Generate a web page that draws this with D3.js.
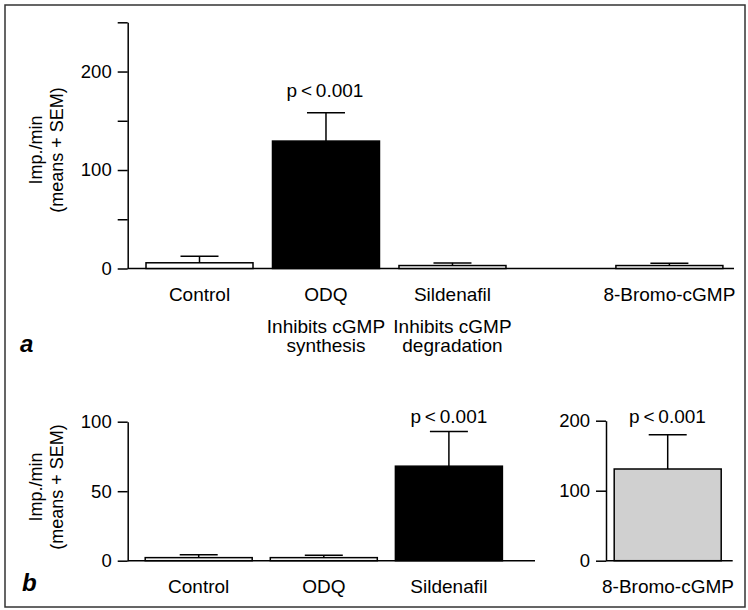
<!DOCTYPE html>
<html><head><meta charset="utf-8">
<script src="https://cdn.jsdelivr.net/npm/d3@7"></script>
<style>
body{margin:0;background:#fff}
svg{display:block}
text{font-family:"Liberation Sans",Arial,Helvetica,sans-serif;fill:#000}
</style>
</head><body>
<svg id="chart" width="748" height="610"></svg>
<script>
// ---------- data ----------
const topCategories = ["Control", "ODQ", "Sildenafil", "8-Bromo-cGMP"];
const topMeans = [5.8, 129.4, 3, 3];
const topSEM = [6.7, 28.8, 2.7, 2.4];
const topNotes = [[], ["Inhibits cGMP", "synthesis"], ["Inhibits cGMP", "degradation"], []];
const topTicks = [0, 50, 100, 150, 200, 250];
const topTickLabels = ["0", "", "100", "", "200", ""];

const bottomCategories = ["Control", "ODQ", "Sildenafil"];
const bottomMeans = [2.2, 2.2, 68];
const bottomSEM = [2.1, 1.7, 25];
const bottomTicks = [0, 50, 100];
const bottomTickLabels = ["0", "50", "100"];

const bromoCategories = ["8-Bromo-cGMP"];
const bromoMeans = [131];
const bromoSEM = [49];
const bromoTicks = [0, 100, 200];
const bromoTickLabels = ["0", "100", "200"];

const pText = "p\u2009<\u20090.001";
const yLabelLines = ["Imp./min", "(means + SEM)"];
const panelLetters = ["a", "b"];

// ---------- layout ----------
const svg = d3.select("#chart");
const FS = 19, TFS = 18.5, LW = 1.5, BARW = 107, CAP = 19;

// frame
svg.append("rect").attr("x", 5).attr("y", 5).attr("width", 740).attr("height", 602)
  .attr("fill", "none").attr("stroke", "#333").attr("stroke-width", 1.5);

function yAxis(g, scale, ticks, labels) {
  const ax = d3.axisLeft(scale).tickValues(ticks)
    .tickFormat((d, i) => labels[i]).tickSize(10).tickPadding(6).tickSizeOuter(0);
  g.call(ax);
  g.select(".domain").attr("stroke-width", LW).attr("stroke", "#000");
  g.selectAll(".tick line").attr("stroke-width", LW).attr("stroke", "#000");
  g.selectAll(".tick text").attr("font-size", TFS).attr("font-family", '"Liberation Sans",Arial,sans-serif').attr("fill", "#000");
}

function drawBars(g, cats, means, sems, xs, y, fills) {
  cats.forEach((c, i) => {
    const cx = xs(i);
    g.append("rect").attr("x", cx - BARW / 2).attr("y", y(means[i]))
      .attr("width", BARW).attr("height", y(0) - y(means[i]))
      .attr("fill", fills[i]).attr("stroke", "#000").attr("stroke-width", LW);
    const top = y(means[i] + sems[i]);
    g.append("line").attr("x1", cx).attr("x2", cx).attr("y1", y(means[i])).attr("y2", top)
      .attr("stroke", "#000").attr("stroke-width", LW);
    g.append("line").attr("x1", cx - CAP).attr("x2", cx + CAP).attr("y1", top).attr("y2", top)
      .attr("stroke", "#000").attr("stroke-width", LW);
  });
}

function yTitle(cx, cy) {
  yLabelLines.forEach((t, i) => {
    svg.append("text").attr("transform", `translate(${cx[i]},${cy}) rotate(-90)`)
      .attr("text-anchor", "middle").attr("font-size", 18).text(t);
  });
}

// ----- panel a -----
const yTop = d3.scaleLinear().domain([0, 250]).range([268.5, 22.3]);
const slotsTop = [0, 1, 2, 3.715];
const xTop = d3.scaleLinear().domain([0, 3.715]).range([199.5, 669.4]);
const gA = svg.append("g");
gA.append("line").attr("x1", 127.7).attr("x2", 734).attr("y1", yTop(0)).attr("y2", yTop(0))
  .attr("stroke", "#000").attr("stroke-width", LW);
drawBars(gA, topCategories, topMeans, topSEM, i => xTop(slotsTop[i]), yTop,
  ["#fff", "#000", "#fff", "#fff"]);
yAxis(gA.append("g").attr("transform", "translate(127.7,0)"), yTop, topTicks, topTickLabels);
topCategories.forEach((c, i) => {
  const cx = xTop(slotsTop[i]);
  gA.append("text").attr("x", cx).attr("y", 301).attr("text-anchor", "middle").attr("font-size", FS).text(c);
  topNotes[i].forEach((t, j) => {
    gA.append("text").attr("x", cx).attr("y", 333 + j * 19).attr("text-anchor", "middle").attr("font-size", FS).text(t);
  });
});
gA.append("text").attr("x", xTop(1) - 1).attr("y", 97).attr("text-anchor", "middle").attr("font-size", FS).text(pText);
yTitle([42, 63], 150);
svg.append("text").attr("x", 20).attr("y", 352).attr("font-family", '"Liberation Serif","Times New Roman",serif')
  .attr("font-weight", "bold").attr("font-style", "italic").attr("font-size", 24).text(panelLetters[0]);

// ----- panel b (left) -----
const yBot = d3.scaleLinear().domain([0, 100]).range([560.7, 421.7]);
const xBot = d3.scaleLinear().domain([0, 2]).range([198.7, 448.9]);
const gB = svg.append("g");
gB.append("line").attr("x1", 127.7).attr("x2", 535).attr("y1", yBot(0)).attr("y2", yBot(0))
  .attr("stroke", "#000").attr("stroke-width", LW);
drawBars(gB, bottomCategories, bottomMeans, bottomSEM, i => xBot(i), yBot, ["#fff", "#fff", "#000"]);
yAxis(gB.append("g").attr("transform", "translate(127.7,0)"), yBot, bottomTicks, bottomTickLabels);
bottomCategories.forEach((c, i) => {
  gB.append("text").attr("x", xBot(i)).attr("y", 593).attr("text-anchor", "middle").attr("font-size", FS).text(c);
});
gB.append("text").attr("x", xBot(2)).attr("y", 423).attr("text-anchor", "middle").attr("font-size", FS).text(pText);
yTitle([42, 63], 487);
svg.append("text").attr("x", 22).attr("y", 591).attr("font-family", '"Liberation Serif","Times New Roman",serif')
  .attr("font-weight", "bold").attr("font-style", "italic").attr("font-size", 24).text(panelLetters[1]);

// ----- panel b (right) -----
const yBr = d3.scaleLinear().domain([0, 200]).range([560.7, 420.7]);
const xBr = () => 667.7;
const gC = svg.append("g");
gC.append("line").attr("x1", 606).attr("x2", 732.7).attr("y1", yBr(0)).attr("y2", yBr(0))
  .attr("stroke", "#000").attr("stroke-width", LW);
drawBars(gC, bromoCategories, bromoMeans, bromoSEM, xBr, yBr, ["#d0d0d0"]);
yAxis(gC.append("g").attr("transform", "translate(606,0)"), yBr, bromoTicks, bromoTickLabels);
gC.append("text").attr("x", 668).attr("y", 593).attr("text-anchor", "middle").attr("font-size", FS).text(bromoCategories[0]);
gC.append("text").attr("x", 667.5).attr("y", 423).attr("text-anchor", "middle").attr("font-size", FS).text(pText);
</script>
</body></html>
